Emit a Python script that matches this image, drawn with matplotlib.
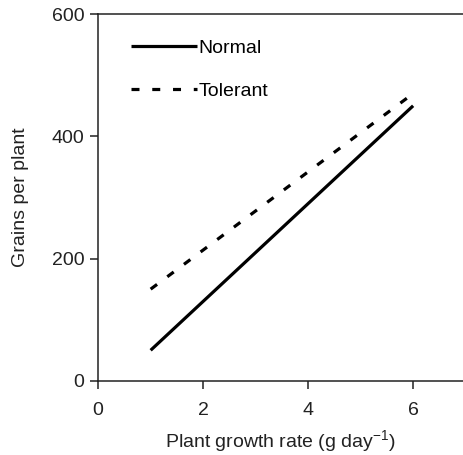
import matplotlib.pyplot as plt

plt.rcParams['font.family'] = ['Liberation Sans', 'DejaVu Sans']
plt.rcParams['mathtext.default'] = 'regular'

# growth rate (g/day) and grains per plant for the two fitted lines
growth = [1, 6]
normal = [50, 450]
tolerant = [150, 470]

xticks = [0, 2, 4, 6]
yticks = [0, 200, 400, 600]

fs = 14
ink = '#222222'

fig = plt.figure(figsize=(4.63, 4.55), dpi=100)
ax = fig.add_axes([0.212, 0.163, 0.788, 0.806])

ax.plot(growth, normal, color='black', lw=2.3, solid_capstyle='butt', label='Normal')
ax.plot(growth, tolerant, color='black', lw=2.3, dashes=(2.5, 4.0),
        dash_capstyle='butt', label='Tolerant')

ax.set_xlim(0, 6.95)
ax.set_ylim(0, 600)
ax.set_xticks(xticks)
ax.set_yticks(yticks)

ax.spines['right'].set_visible(False)
for s in ['left', 'bottom', 'top']:
    ax.spines[s].set_linewidth(1.1)
    ax.spines[s].set_color(ink)
ax.tick_params(direction='out', length=6, width=1.1, labelsize=fs,
               color=ink, labelcolor=ink, pad=4)
ax.tick_params(axis='x', pad=9)

ax.set_xlabel('Plant growth rate (g day$^{-1}$)', fontsize=fs, color=ink, labelpad=7)
ax.set_ylabel('Grains per plant', fontsize=fs, color=ink, labelpad=16)

ax.legend(loc='upper left', bbox_to_anchor=(0.068, 0.953), frameon=False,
          fontsize=fs, handlelength=3.4, handletextpad=0.1, labelspacing=1.3,
          borderaxespad=0)

fig.savefig('out.png', dpi=100)
